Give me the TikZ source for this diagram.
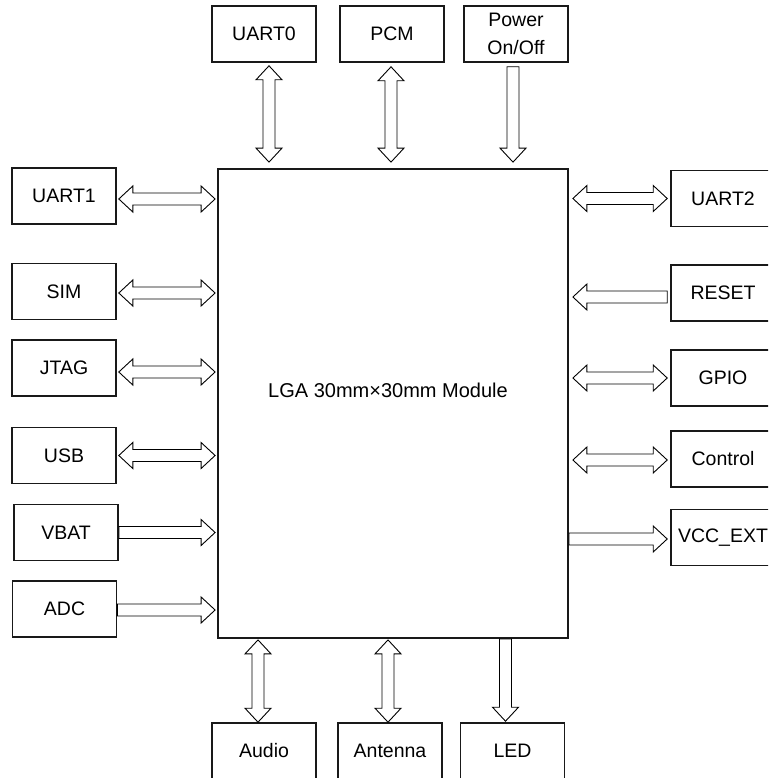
\documentclass[tikz,border=0pt]{standalone}
\usepackage{fontspec}
\setmainfont{Liberation Sans}
\usetikzlibrary{calc}

\tikzset{
    blk/.style={draw=black!90, line width=1.6pt, minimum width=104pt, minimum height=56pt,
        inner sep=0pt, align=center, font=\fontsize{19.5}{28}\selectfont},
    bus/.style={draw=black, line width=0.9pt, fill=white, line join=miter},
}
% hollow bus arrows, drawn from #1 to #2
\newcommand\bothway[2]{%
    \path[bus] let \p1=(#1), \p2=(#2), \n1={atan2(\y2-\y1,\x2-\x1)}, \n2={veclen(\x2-\x1,\y2-\y1)} in
        {[shift={(\p1)},rotate=\n1] (0,0) -- (14,13) -- (14,6) -- (\n2-14,6) -- (\n2-14,13) -- (\n2,0)
        -- (\n2-14,-13) -- (\n2-14,-6) -- (14,-6) -- (14,-13) -- cycle};}
\newcommand\oneway[2]{%
    \path[bus] let \p1=(#1), \p2=(#2), \n1={atan2(\y2-\y1,\x2-\x1)}, \n2={veclen(\x2-\x1,\y2-\y1)} in
        {[shift={(\p1)},rotate=\n1] (0,6) -- (\n2-14,6) -- (\n2-14,13) -- (\n2,0)
        -- (\n2-14,-13) -- (\n2-14,-6) -- (0,-6) -- cycle};}

\begin{document}
\begin{tikzpicture}[x=1pt,y=-1pt]
    \useasboundingbox (0,0) rectangle (768,778);
    \clip (0,0) rectangle (768,778);
    % module
    \node[blk, minimum width=350pt, minimum height=469pt, line width=1.8pt] (lga) at (393,403.5) {};
    \node[font=\fontsize{20}{24}\selectfont] (lgatext) at (388,390) {LGA 30mm×30mm Module};
    % top row
    \node[blk] (uart0) at (264,34) {UART0};
    \node[blk] (pcm) at (392,34) {PCM};
    \node[blk] (power) at (516,34) {Power\\On/Off};
    % left column
    \node[blk] (uart1) at (64,196) {UART1};
    \node[blk] (sim) at (64,291.5) {SIM};
    \node[blk] (jtag) at (64,368) {JTAG};
    \node[blk] (usb) at (64,455.5) {USB};
    \node[blk] (vbat) at (66,532.5) {VBAT};
    \node[blk] (adc) at (64.5,609) {ADC};
    % right column
    \node[blk] (uart2) at (723,198.5) {UART2};
    \node[blk] (reset) at (723,293) {RESET};
    \node[blk] (gpio) at (723,378) {GPIO};
    \node[blk] (control) at (723,459) {Control};
    \node[blk] (vcc) at (723,537.5) {VCC\_EXT};
    % bottom row
    \node[blk] (audio) at (264,751) {Audio};
    \node[blk] (antenna) at (390,751) {Antenna};
    \node[blk] (led) at (512.5,751) {LED};

    \bothway{$(uart0.south)+(5,3)$}{$(uart0.south|-lga.north)+(5,-6)$}
    \bothway{$(pcm.south)+(-1,4)$}{$(pcm.south|-lga.north)+(-1,-6)$}
    \oneway{$(power.south)+(-3,4)$}{$(power.south|-lga.north)+(-3,-6)$}

    \bothway{$(uart1.east)+(2,3)$}{$(uart1.east-|lga.west)+(-2,3)$}
    \bothway{$(sim.east)+(2,1.5)$}{$(sim.east-|lga.west)+(-2,1.5)$}
    \bothway{$(jtag.east)+(2,4)$}{$(jtag.east-|lga.west)+(-2,4)$}
    \bothway{$(usb.east)+(2,0)$}{$(usb.east-|lga.west)+(-2,0)$}
    \oneway{vbat.east}{$(vbat.east-|lga.west)+(-2,0)$}
    \oneway{$(adc.east)+(0,1)$}{$(adc.east-|lga.west)+(-2,1)$}

    \bothway{$(uart2.west-|lga.east)+(4,0)$}{$(uart2.west)+(-3,0)$}
    \oneway{$(reset.west)+(-3,4)$}{$(reset.west-|lga.east)+(4,4)$}
    \bothway{$(gpio.west-|lga.east)+(4,0)$}{$(gpio.west)+(-3,0)$}
    \bothway{$(control.west-|lga.east)+(4,1)$}{$(control.west)+(-3,1)$}
    \oneway{$(vcc.west-|lga.east)+(0,1.5)$}{$(vcc.west)+(-3,1.5)$}

    \bothway{$(audio.north|-lga.south)+(-6,1)$}{$(audio.north)+(-6,0)$}
    \bothway{$(antenna.north|-lga.south)+(-2,1)$}{$(antenna.north)+(-2,0)$}
    \oneway{$(led.north|-lga.south)+(-7,0)$}{$(led.north)+(-7,-1)$}
\end{tikzpicture}
\end{document}
